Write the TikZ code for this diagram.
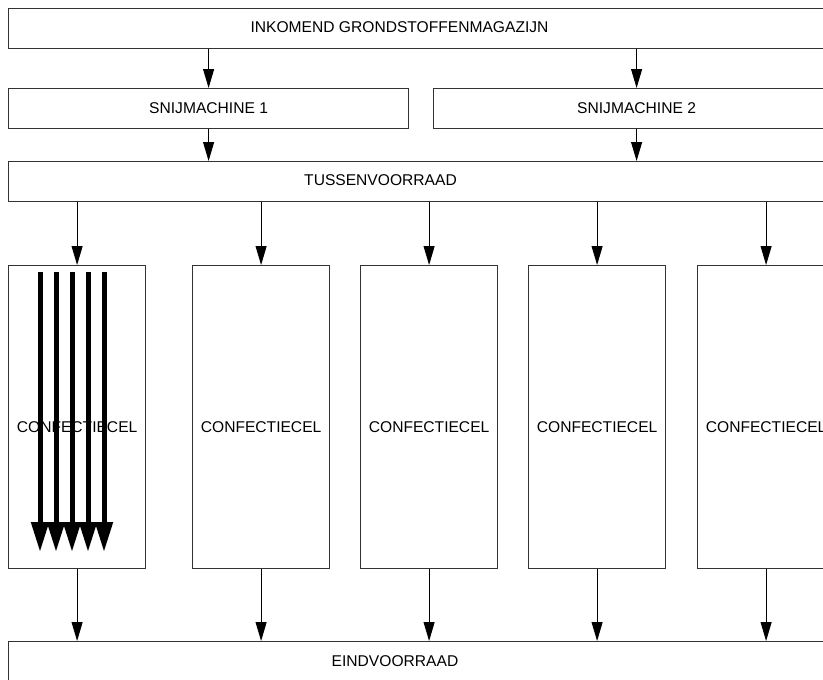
\documentclass[tikz,border=0pt]{standalone}
\usepackage{fontspec}
\setmainfont{Liberation Sans}
\usetikzlibrary{arrows.meta}
\definecolor{boxgray}{HTML}{333333}
\begin{document}
\begin{tikzpicture}[x=1pt,y=-1pt,
  font=\fontsize{15.6}{18}\selectfont,
  box/.style={draw=boxgray, line width=1.2pt, minimum width=#1, minimum height=40pt, inner sep=0pt, anchor=north west},
  cel/.style={draw=boxgray, line width=1.2pt, minimum width=137pt, minimum height=303pt, inner sep=0pt, anchor=north west},
  lbl/.style={inner sep=0pt},
  arr/.style={-{Triangle[length=19pt,width=11pt]}, line width=1pt, black},
  fat/.style={-{Triangle[length=30pt,width=17pt]}, line width=5pt, black}]
\useasboundingbox (0,0) rectangle (823,680);
\clip (0,0) rectangle (823,680);
\fill[white] (0,0) rectangle (823,680);
% boxes
\node[box=832pt] (inkomend) at (8,8) {};
\node[lbl] (tinkomend) at (399.5,27) {INKOMEND GRONDSTOFFENMAGAZIJN};
\node[box=400pt] (snij1) at (8,88) {SNIJMACHINE 1};
\node[box=406pt] (snij2) at (433,88) {SNIJMACHINE 2};
\node[box=832pt] (tussen) at (8,161) {};
\node[lbl] (ttussen) at (380.5,180) {TUSSENVOORRAAD};
\foreach \i/\x in {1/8,2/192,3/360,4/528,5/697}{
  \node[cel] (c\i) at (\x,265) {};
  \node[lbl] (tc\i) at ([yshift=-10pt]c\i.center) {CONFECTIECEL};
}
\node[box=832pt] (eind) at (8,641) {};
\node[lbl] (teind) at (395,661) {EINDVOORRAAD};
% connectors
\draw[arr] (inkomend.south -| snij1.north) -- (snij1.north);
\draw[arr] (inkomend.south -| snij2.north) -- (snij2.north);
\draw[arr] (snij1.south) -- (tussen.north -| snij1.south);
\draw[arr] (snij2.south) -- (tussen.north -| snij2.south);
\foreach \i in {1,...,5}{
  \draw[arr] (tussen.south -| c\i.north) -- (c\i.north);
  \draw[arr] (c\i.south) -- (eind.north -| c\i.south);
}
% thick flow arrows inside first cell
\foreach \x in {40,56,72,88,104}{
  \draw[fat] (\x,272) -- (\x,552);
}
\end{tikzpicture}
\end{document}
